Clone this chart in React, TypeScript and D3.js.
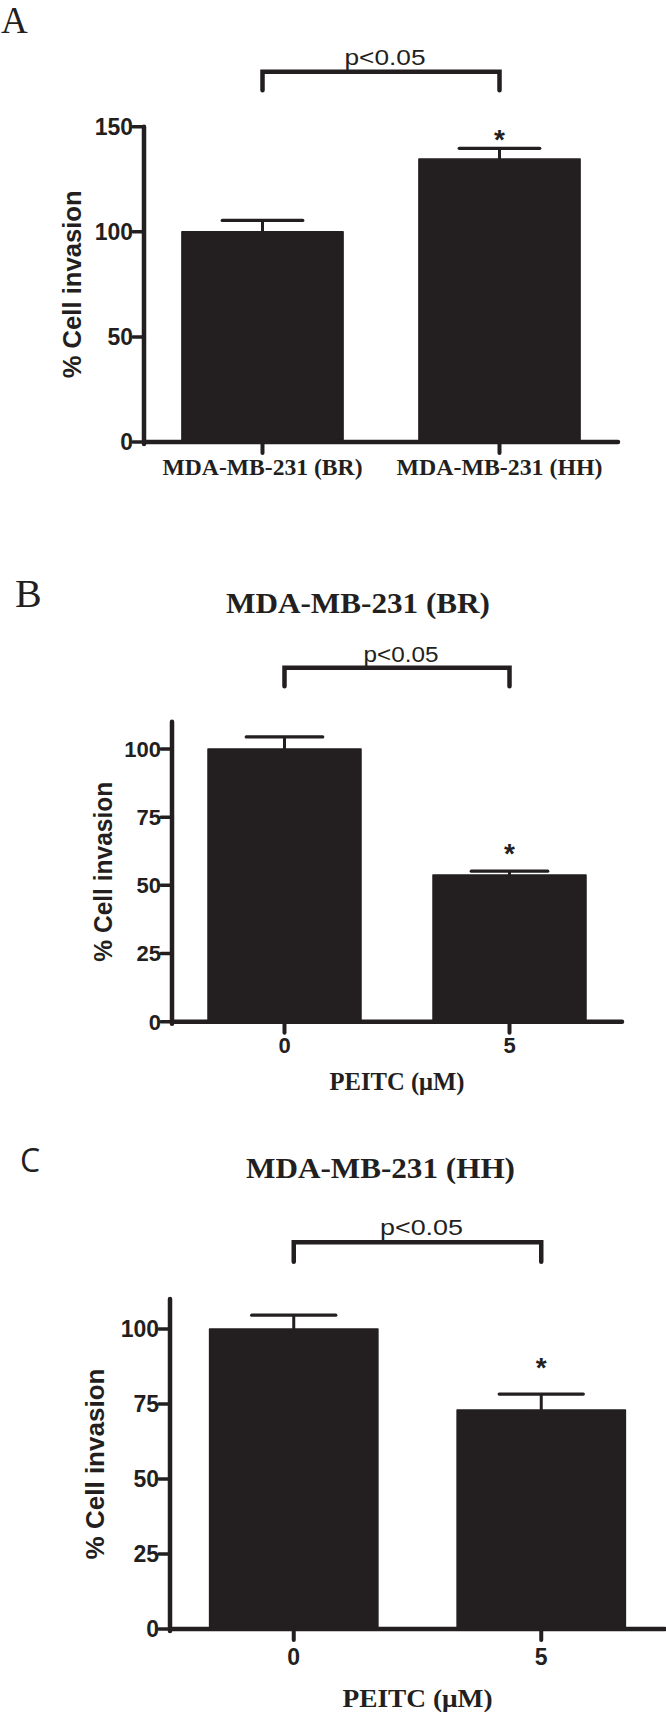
import React from "react";
import * as d3 from "d3";

const SERIF = "'Liberation Serif', 'Times New Roman', serif";
const SANS = "'Liberation Sans', Arial, sans-serif";
const OPEN = "'Open Sans', 'Noto Sans', sans-serif";
const BAR = "#231f20";
const INK = "#231f20";

// ---------- data ----------
const aCategories = ["MDA-MB-231 (BR)", "MDA-MB-231 (HH)"];
const aMeans = [100, 134.6];
const aSem = [5.4, 5.1];
const aTicks = [0, 50, 100, 150];

const bCategories = ["0", "5"];
const bMeans = [100, 53.8];
const bSem = [4.4, 1.4];

const cCategories = ["0", "5"];
const cMeans = [100, 73.0];
const cSem = [4.6, 5.3];

const bcTicks = [0, 25, 50, 75, 100];

const panelLetters = ["A", "B", "C"];
const panelTitles = ["", "MDA-MB-231 (BR)", "MDA-MB-231 (HH)"];
const yAxisTitle = "% Cell invasion";
const xAxisTitle = "PEITC (μM)";
const sigLabel = "p<0.05";
const starLabel = "*";

type PanelProps = {
  categories: string[];
  means: number[];
  sem: number[];
  ticks: number[];
  yMax: number;
  starValue: number;
  layout: {
    x0: number;
    x1: number;
    yZero: number;
    yTop: number;
    tickFont: number;
    catSerif: boolean;
    catFont: number;
    catBaseline: number;
    catLength?: number[];
    bracketY: number;
    bracketLeg: number;
    sigBaseline: number;
    sigLength: number;
    yTitleX: number;
    yTitleLength: number;
    xTitleBaseline?: number;
    xTitleLength?: number;
  };
  xTitle?: string;
};

function Panel({ categories, means, sem, ticks, yMax, starValue, layout, xTitle }: PanelProps) {
  const L = layout;
  const y = d3.scaleLinear().domain([0, yMax]).range([L.yZero, L.yTop]);
  const x = d3.scalePoint<string>().domain(categories).range([L.x0, L.x1]).padding(0.5);
  const step = x.step();
  const barW = step * 0.68;
  const capW = barW * 0.5;
  const c0 = x(categories[0])!;
  const c1 = x(categories[1])!;
  const bracketMid = (c0 + c1) / 2 + 4;
  const starFont = 28;
  return (
    <g>
      {categories.map((c, i) => {
        const cx = x(c)!;
        return (
          <g key={c}>
            <rect
              x={cx - barW / 2}
              y={y(means[i])}
              width={barW}
              height={y(0) - y(means[i])}
              fill={BAR}
              stroke={BAR}
              strokeWidth={1.5}
              strokeLinejoin="round"
            />
            <line x1={cx} x2={cx} y1={y(means[i])} y2={y(means[i] + sem[i])} stroke={INK} strokeWidth={3} />
            <line
              x1={cx - capW / 2}
              x2={cx + capW / 2}
              y1={y(means[i] + sem[i])}
              y2={y(means[i] + sem[i])}
              stroke={INK}
              strokeWidth={3.2}
              strokeLinecap="round"
            />
          </g>
        );
      })}
      <line x1={L.x0} x2={L.x0} y1={y(yMax)} y2={y(0) + 2} stroke={INK} strokeWidth={4.5} strokeLinecap="round" />
      {ticks.map((t) => (
        <g key={t}>
          <line x1={L.x0 - 11} x2={L.x0} y1={y(t)} y2={y(t)} stroke={INK} strokeWidth={3.5} strokeLinecap="round" />
          <text
            x={L.x0 - 11}
            y={y(t) + L.tickFont * 0.36}
            textAnchor="end"
            fontFamily={SANS}
            fontWeight="bold"
            fontSize={L.tickFont}
            fill={INK}
          >
            {t}
          </text>
        </g>
      ))}
      <line x1={L.x0} x2={L.x1} y1={y(0)} y2={y(0)} stroke={INK} strokeWidth={4.5} strokeLinecap="round" />
      {categories.map((c, i) => (
        <g key={"t" + c}>
          <line x1={x(c)!} x2={x(c)!} y1={y(0)} y2={y(0) + 11} stroke={INK} strokeWidth={4} strokeLinecap="round" />
          <text
            x={x(c)!}
            y={L.catBaseline}
            textAnchor="middle"
            fontFamily={L.catSerif ? SERIF : SANS}
            fontWeight="bold"
            fontSize={L.catFont}
            fill={INK}
            {...(L.catLength ? { textLength: L.catLength[i], lengthAdjust: "spacingAndGlyphs" } : {})}
          >
            {c}
          </text>
        </g>
      ))}
      <text
        transform={`translate(${L.yTitleX},${(y(0) + y(yMax)) / 2}) rotate(-90)`}
        textAnchor="middle"
        fontFamily={SANS}
        fontWeight="bold"
        fontSize={26}
        fill={INK}
        textLength={L.yTitleLength}
        lengthAdjust="spacingAndGlyphs"
      >
        {yAxisTitle}
      </text>
      {xTitle && (
        <text
          x={(L.x0 + L.x1) / 2}
          y={L.xTitleBaseline}
          textAnchor="middle"
          fontFamily={SERIF}
          fontWeight="bold"
          fontSize={25}
          fill={INK}
          textLength={L.xTitleLength}
          lengthAdjust="spacingAndGlyphs"
        >
          {xTitle}
        </text>
      )}
      <path
        d={`M${c0},${L.bracketY + L.bracketLeg} V${L.bracketY} H${c1} V${L.bracketY + L.bracketLeg}`}
        fill="none"
        stroke={INK}
        strokeWidth={4.5}
        strokeLinecap="round"
        strokeLinejoin="miter"
      />
      <text
        x={bracketMid}
        y={L.sigBaseline}
        textAnchor="middle"
        fontFamily={SANS}
        fontSize={22}
        fill={INK}
        textLength={L.sigLength}
        lengthAdjust="spacingAndGlyphs"
      >
        {sigLabel}
      </text>
      <text
        x={c1}
        y={y(starValue) + starFont * 0.57}
        textAnchor="middle"
        fontFamily={SANS}
        fontWeight="bold"
        fontSize={starFont}
        fill={INK}
      >
        {starLabel}
      </text>
    </g>
  );
}

export default function App() {
  return (
    <svg
      width={666}
      height={1712}
      viewBox="0 0 666 1712"
      style={{ position: "absolute", left: 0, top: 0, background: "#fff" }}
    >
      <rect x={0} y={0} width={666} height={1712} fill="#fff" />
      {/* Panel A */}
      <text x={1} y={33} fontFamily={SERIF} fontSize={37} fill={INK}>
        {panelLetters[0]}
      </text>
      <Panel
        categories={aCategories}
        means={aMeans}
        sem={aSem}
        ticks={aTicks}
        yMax={150}
        starValue={147.2}
        layout={{
          x0: 144,
          x1: 618,
          yZero: 442,
          yTop: 126.7,
          tickFont: 23,
          catSerif: true,
          catFont: 24,
          catBaseline: 475,
          catLength: [200, 206],
          bracketY: 71.7,
          bracketLeg: 18.5,
          sigBaseline: 65,
          sigLength: 81,
          yTitleX: 80.5,
          yTitleLength: 188,
        }}
      />

      {/* Panel B */}
      <text x={15} y={607} fontFamily={SERIF} fontSize={40} fill={INK}>
        {panelLetters[1]}
      </text>
      <text
        x={358}
        y={613.3}
        textAnchor="middle"
        fontFamily={SERIF}
        fontWeight="bold"
        fontSize={30}
        fill={INK}
        textLength={264}
        lengthAdjust="spacingAndGlyphs"
      >
        {panelTitles[1]}
      </text>
      <Panel
        categories={bCategories}
        means={bMeans}
        sem={bSem}
        ticks={bcTicks}
        yMax={110}
        starValue={64}
        xTitle={xAxisTitle}
        layout={{
          x0: 172,
          x1: 622,
          yZero: 1021.7,
          yTop: 721.7,
          tickFont: 22,
          catSerif: false,
          catFont: 22,
          catBaseline: 1052.7,
          bracketY: 667.8,
          bracketLeg: 18.5,
          sigBaseline: 661.7,
          sigLength: 75,
          yTitleX: 111.5,
          yTitleLength: 180,
          xTitleBaseline: 1090,
          xTitleLength: 135,
        }}
      />

      {/* Panel C */}
      <text x={20} y={1172} fontFamily={OPEN} fontSize={32} fill={INK}>
        {panelLetters[2]}
      </text>
      <text
        x={380.5}
        y={1178.3}
        textAnchor="middle"
        fontFamily={SERIF}
        fontWeight="bold"
        fontSize={30}
        fill={INK}
        textLength={269}
        lengthAdjust="spacingAndGlyphs"
      >
        {panelTitles[2]}
      </text>
      <Panel
        categories={cCategories}
        means={cMeans}
        sem={cSem}
        ticks={bcTicks}
        yMax={110}
        starValue={89.2}
        xTitle={xAxisTitle}
        layout={{
          x0: 170,
          x1: 665,
          yZero: 1629,
          yTop: 1299,
          tickFont: 23,
          catSerif: false,
          catFont: 23,
          catBaseline: 1665,
          bracketY: 1242.2,
          bracketLeg: 19.5,
          sigBaseline: 1235,
          sigLength: 83,
          yTitleX: 104,
          yTitleLength: 191,
          xTitleBaseline: 1706.5,
          xTitleLength: 150,
        }}
      />
    </svg>
  );
}
